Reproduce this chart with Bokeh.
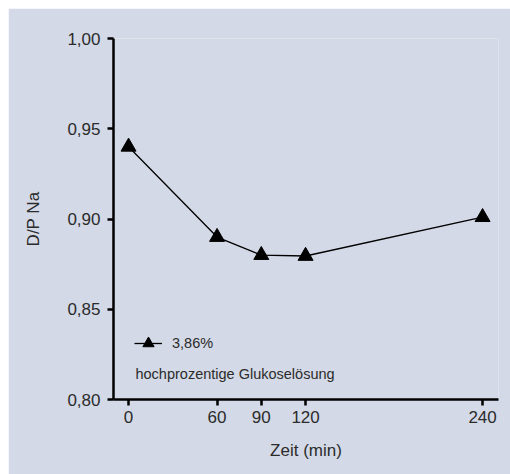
from bokeh.plotting import figure
from bokeh.models import Range1d, FixedTicker, Legend, LegendItem, Label
from bokeh.embed import file_html
from bokeh.resources import INLINE

# data
zeit = [0, 60, 90, 120, 240]
dp_na = [0.940, 0.890, 0.880, 0.8795, 0.901]
series_label = "3,86%"
series_note = "hochprozentige Glukoselösung"
x_ticks = [0, 60, 90, 120, 240]
y_ticks = [0.80, 0.85, 0.90, 0.95, 1.00]
y_tick_labels = ["0,80", "0,85", "0,90", "0,95", "1,00"]

BG = "#d3d9e6"
TXT = "#2b2b2b"
FONT = "Liberation Sans"

p = figure(width=502, height=466, output_backend="svg", toolbar_location=None,
           x_range=Range1d(-10.2, 250.8), y_range=Range1d(0.80, 1.00),
           min_border_left=105, min_border_right=12, min_border_top=30, min_border_bottom=75)
p.styles = {"margin-left": "8px", "margin-top": "8px"}
p.background_fill_color = BG
p.border_fill_color = BG
p.outline_line_color = None
p.grid.visible = False

line_r = p.line(zeit, dp_na, line_color="black", line_width=1.3)
mark_r = p.scatter(zeit, dp_na, marker="triangle", size=15, fill_color="black", line_color="black")

for ax in (p.xaxis[0], p.yaxis[0]):
    ax.axis_line_width = 2.5
    ax.axis_line_color = "black"
    ax.major_tick_line_width = 2.5
    ax.major_tick_line_color = "black"
    ax.major_tick_in = 0
    ax.major_tick_out = 6
    ax.minor_tick_line_color = None
    ax.major_label_text_font = FONT
    ax.major_label_text_font_size = "17px"
    ax.major_label_text_color = TXT
    ax.axis_label_text_font = FONT
    ax.axis_label_text_font_size = "17px"
    ax.axis_label_text_color = TXT
    ax.axis_label_text_font_style = "normal"

p.xaxis.ticker = FixedTicker(ticks=x_ticks)
p.yaxis.ticker = FixedTicker(ticks=y_ticks)
p.yaxis.major_label_overrides = {t: l for t, l in zip(y_ticks, y_tick_labels)}
p.xaxis.axis_label = "Zeit (min)"
p.yaxis.axis_label = "D/P Na"
p.xaxis.major_label_standoff = 5
p.yaxis.major_label_standoff = 7
p.xaxis.axis_label_standoff = 15
p.yaxis.axis_label_standoff = 21

legend = Legend(items=[LegendItem(label=series_label, renderers=[line_r, mark_r])],
                location=(21, 41), padding=0, margin=0, spacing=0,
                glyph_width=28, glyph_height=30, label_height=30, label_standoff=10,
                label_text_font=FONT, label_text_font_size="14.5px", label_text_color=TXT,
                background_fill_alpha=0, border_line_color=None)
p.add_layout(legend, "center")

note = Label(x=4.7, y=0.8144, text=series_note, text_font=FONT, text_font_size="14.5px",
             text_color=TXT, text_baseline="middle")
p.add_layout(note)

open("out.html", "w").write(file_html(p, INLINE))
